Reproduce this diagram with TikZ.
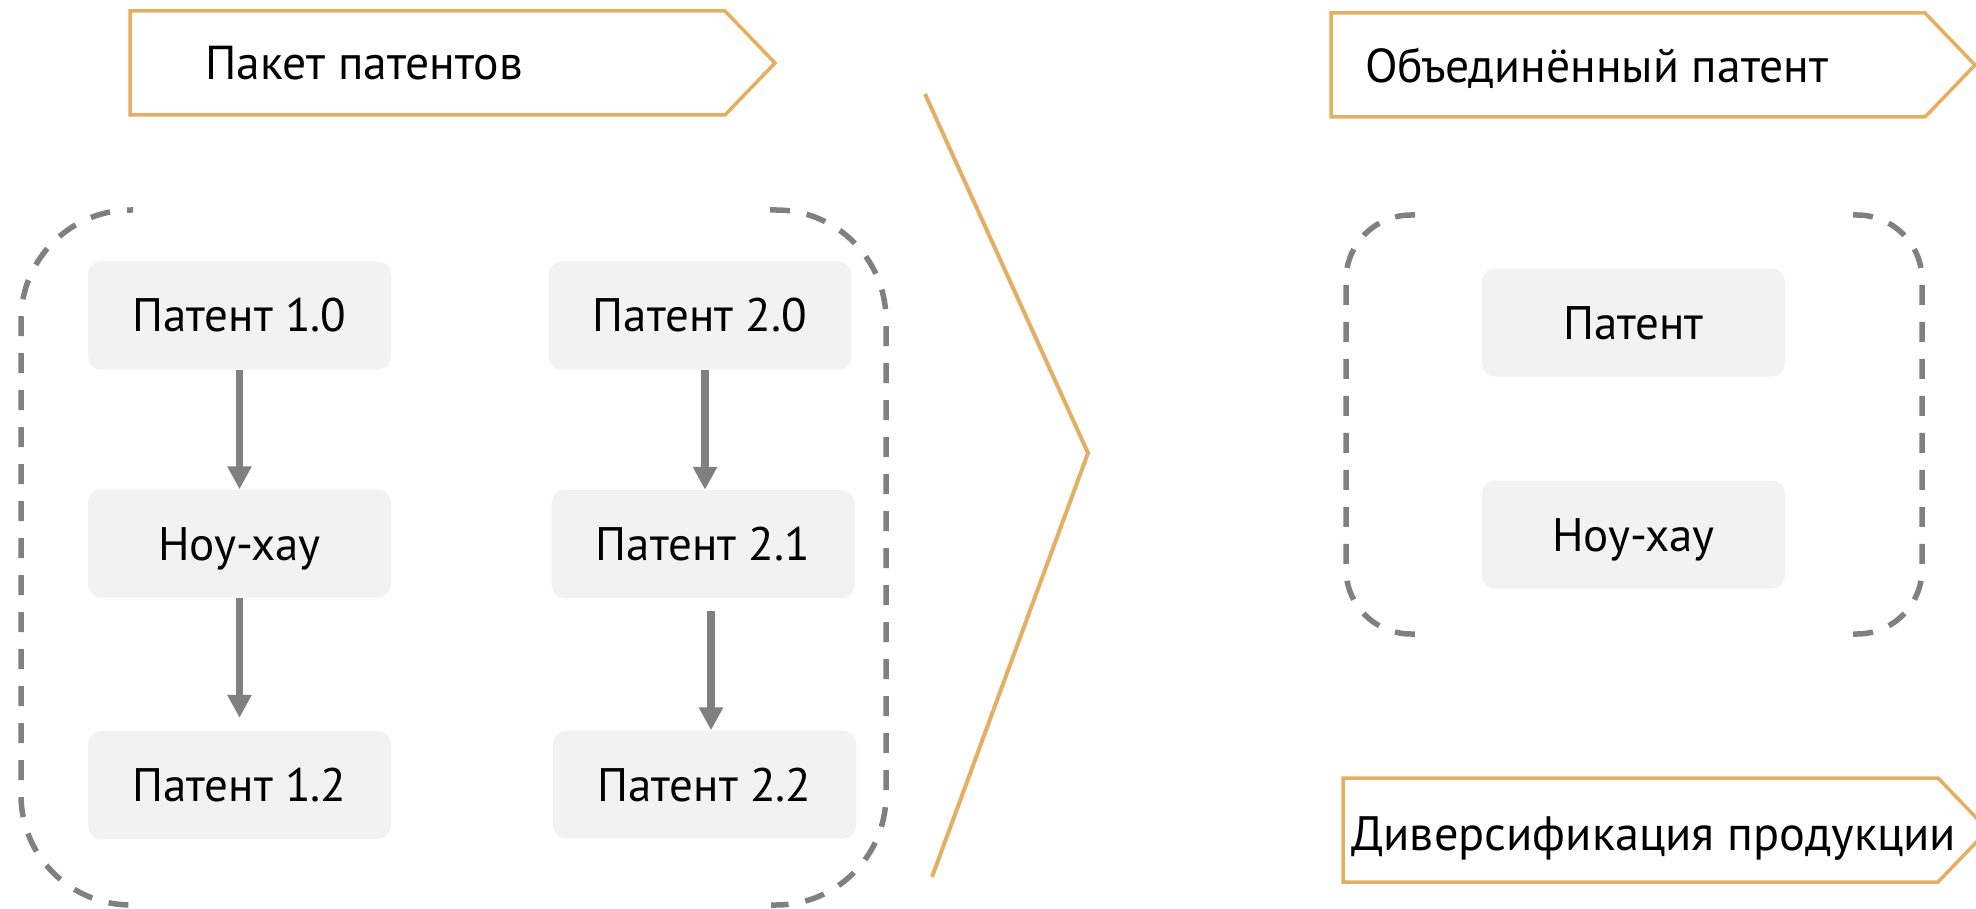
\documentclass[tikz,border=0pt]{standalone}
\usepackage{fontspec}
\setmainfont{PT Sans}
\usetikzlibrary{arrows.meta}
\definecolor{hdrorange}{RGB}{229,174,98}
\definecolor{linegray}{RGB}{128,128,128}
\definecolor{boxgray}{RGB}{242,242,242}
\tikzset{
  hdr/.style={draw=hdrorange, line width=3.5pt, fill=white, line join=miter},
  hdrtext/.style={anchor=base west, inner sep=0pt, font=\fontsize{47.6}{56}\selectfont},
  pbox/.style={rectangle, rounded corners=13pt, fill=boxgray, draw=none,
    minimum width=303pt, minimum height=108pt, inner sep=0pt,
    text height=33pt, text depth=0pt, font=\fontsize{47}{56}\selectfont},
  bracket/.style={draw=linegray, line width=5.5pt, dash pattern=on 20pt off 17pt},
  arr/.style={draw=linegray, line width=7.3pt, -{Triangle[length=23pt,width=23pt]}},
  chev/.style={draw=hdrorange, line width=4pt}
}
\begin{document}
\begin{tikzpicture}[x=1pt,y=-1pt]
\useasboundingbox (0,0) rectangle (1976,909);
\clip (0,0) rectangle (1976,909);
% headers
\draw[hdr] (130,11) -- (725,11) -- (775,63) -- (725,115) -- (130,115) -- cycle;
\node[hdrtext] (h1) at (205,80) {Пакет патентов};
\draw[hdr] (1331,13) -- (1925,13) -- (1975,65) -- (1925,117) -- (1331,117) -- cycle;
\node[hdrtext] (h2) at (1365,83) {Объединённый патент};
\draw[hdr] (1343,778) -- (1938,778) -- (1988,830) -- (1938,882) -- (1343,882) -- cycle;
\node[hdrtext, font=\fontsize{48.3}{56}\selectfont] (h3) at (1351,850) {Диверсификация продукции};
% chevron
\coordinate (c1) at (925,94);
\coordinate (c2) at (1088,453);
\coordinate (c3) at (932,877);
\draw[chev] (c1) -- (c2) -- (c3);
% left brackets
\draw[bracket, dash phase=14pt, rounded corners=110pt] (133,210) -- (21,210) -- (21,905) -- (136,905);
\draw[bracket, rounded corners=110pt] (770,210) -- (886,210) -- (886,905) -- (771,905);
% right brackets
\draw[bracket, rounded corners=65pt] (1415,215) -- (1346,215) -- (1346,634) -- (1415,634);
\draw[bracket, rounded corners=65pt] (1853,215) -- (1922,215) -- (1922,634) -- (1853,634);
% boxes
\node[pbox] (p10) at (239.5,315.5) {Патент 1.0};
\node[pbox] (k1) at (239.5,543.5) {Ноу-хау};
\node[pbox] (p12) at (239.5,785) {Патент 1.2};
\node[pbox] (p20) at (700,315.5) {Патент 2.0};
\node[pbox] (p21) at (703,544) {Патент 2.1};
\node[pbox] (p22) at (704.5,784.5) {Патент 2.2};
\node[pbox] (pr) at (1633.5,322.5) {Патент};
\node[pbox] (kr) at (1633.5,534.5) {Ноу-хау};
% arrows
\draw[arr] (p10.south) -- (k1.north);
\draw[arr, shorten >=13pt] (k1.south) -- (p12.north);
\draw[arr] ([xshift=5pt]p20.south) -- ([xshift=5pt]p20.south |- p21.north);
\draw[arr, shorten <=13pt] ([xshift=8pt]p21.south) -- ([xshift=8pt]p21.south |- p22.north);
\end{tikzpicture}
\end{document}
